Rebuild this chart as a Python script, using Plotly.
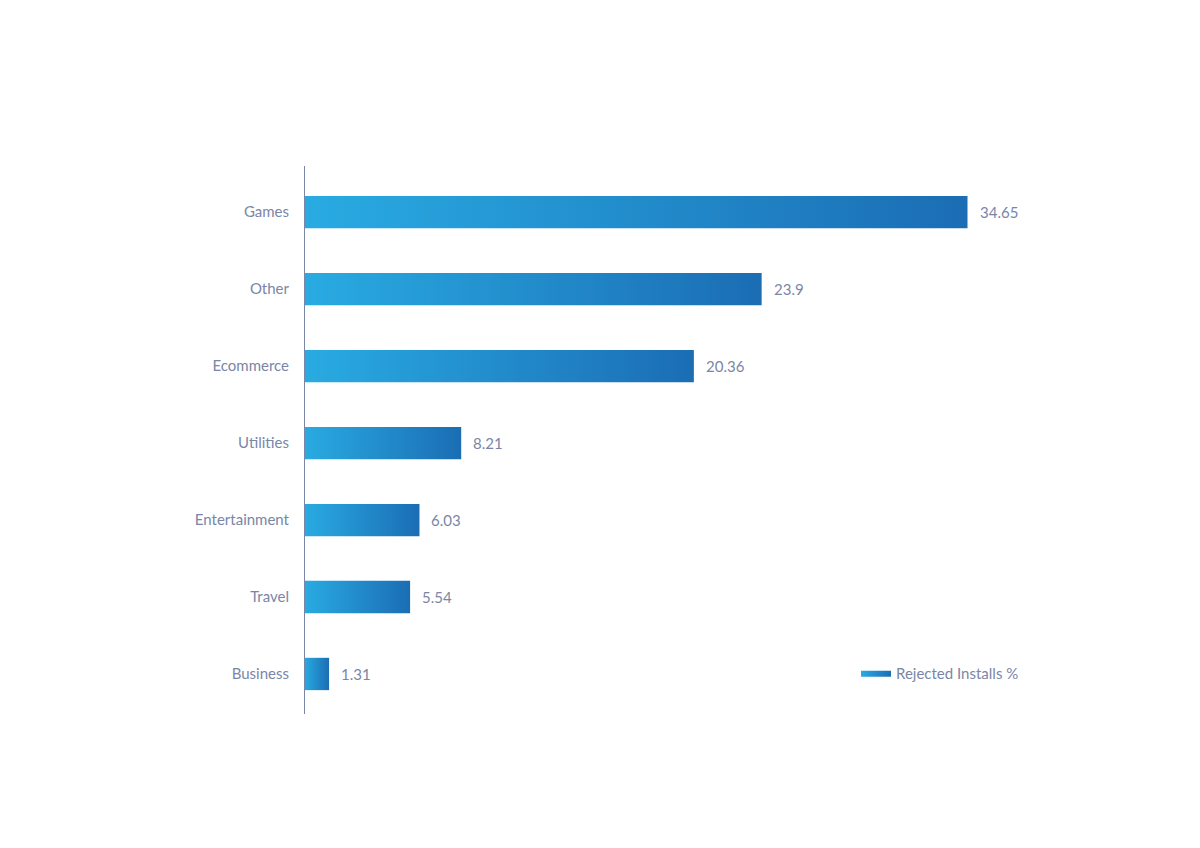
import plotly.graph_objects as go

categories = ["Business", "Travel", "Entertainment", "Utilities", "Ecommerce", "Other", "Games"]
values = [1.31, 5.54, 6.03, 8.21, 20.36, 23.9, 34.65]
labels = ["1.31", "5.54", "6.03", "8.21", "20.36", "23.9", "34.65"]

half = 0.21
grad = [[0, "#29abe2"], [1, "#1b6db4"]]
fig = go.Figure()
for i, (c, v) in enumerate(zip(categories, values)):
    fig.add_trace(go.Scatter(
        x=[0, v, v, 0, 0], y=[i - half, i - half, i + half, i + half, i - half],
        fill="toself", mode="lines", line=dict(width=0),
        fillgradient=dict(type="horizontal", colorscale=grad),
        name="Rejected Installs %", legendgroup="r", showlegend=(i == 0),
        hoverinfo="skip"))
    fig.add_annotation(x=v, y=i, text=labels[i], showarrow=False, xanchor="left",
                       xshift=10, font=dict(size=15, color="#7a86a8"))

fig.update_layout(
    width=1200, height=848, plot_bgcolor="white", paper_bgcolor="white",
    margin=dict(l=296, r=184, t=158, b=142),
    font=dict(family="Lato, Noto Sans, sans-serif", size=15, color="#7a86a8"),
    legend=dict(x=1, y=0.075, xanchor="right", yanchor="middle", font=dict(size=15, color="#7a86a8")),
    xaxis=dict(range=[0, 37.6], visible=False),
    yaxis=dict(range=[-0.52, 6.6], tickvals=list(range(7)), ticktext=categories,
               showgrid=False, zeroline=False, ticks="", ticklabelstandoff=14,
               showline=False),
)
fig.add_shape(type="line", xref="x", yref="paper", x0=0, x1=0, y0=0, y1=1,
              line=dict(color="#7a86a8", width=2))
fig.write_html("out.html")
